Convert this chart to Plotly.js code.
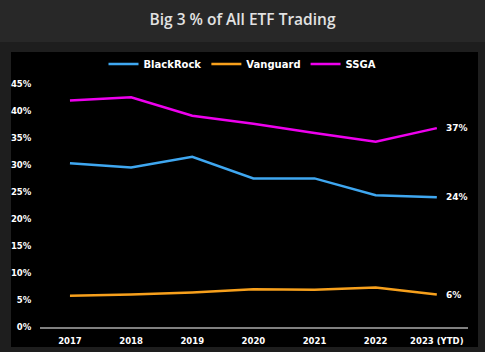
<!DOCTYPE html>
<html>
<head>
<meta charset="utf-8">
<script src="https://cdn.plot.ly/plotly-3.0.1.min.js"></script>
<style>
  html, body { margin: 0; padding: 0; background: #1e1e1e; }
  #chart { width: 485px; height: 352px; }
</style>
</head>
<body>
<div id="chart"></div>
<script>
const years = ['2017', '2018', '2019', '2020', '2021', '2022', '2023 (YTD)'];
const blackrock = [0.303, 0.295, 0.315, 0.275, 0.275, 0.244, 0.240];
const vanguard = [0.058, 0.060, 0.064, 0.070, 0.069, 0.073, 0.060];
const ssga = [0.419, 0.425, 0.391, 0.376, 0.359, 0.343, 0.368];
const seriesNames = ['BlackRock', 'Vanguard', 'SSGA'];
const seriesColors = ['#3fa7f0', '#f7a01c', '#ee00ee'];

const W = 485, H = 352;
const M = { l: 40, r: 17, t: 73, b: 25, autoexpand: false };
const pw = W - M.l - M.r, ph = H - M.t - M.b;
const px = x => (x - M.l) / pw;
const py = y => (H - M.b - y) / ph;

const seriesData = [blackrock, vanguard, ssga];
const traces = seriesData.map((vals, i) => ({
  type: 'scatter',
  mode: 'lines',
  name: seriesNames[i],
  x: years,
  y: vals,
  line: { color: seriesColors[i], width: 2.5 },
  hoverinfo: 'skip'
}));

const annotations = seriesData.map(vals => ({
  x: years[years.length - 1],
  y: vals[vals.length - 1],
  xref: 'x', yref: 'y',
  text: Math.round(vals[vals.length - 1] * 100) + '%',
  showarrow: false,
  xanchor: 'left',
  yanchor: 'middle',
  xshift: 7,
  font: { family: 'DejaVu Sans', size: 9, color: '#ffffff', weight: 'bold' }
}));

const layout = {
  width: W, height: H,
  margin: M,
  paper_bgcolor: '#1e1e1e',
  plot_bgcolor: 'rgba(0,0,0,0)',
  title: {
    text: 'Big 3 % of All ETF Trading',
    font: { family: 'Open Sans', size: 15.5, color: '#e2e2e2', weight: 600 },
    x: 0.5, xanchor: 'center', xref: 'container',
    y: 1 - 19.5 / H, yanchor: 'middle', yref: 'container',
    automargin: false
  },
  shapes: [
    { type: 'rect', xref: 'paper', yref: 'paper', layer: 'below',
      x0: px(0), x1: px(W), y0: py(0), y1: py(42),
      fillcolor: '#282828', line: { width: 0 } },
    { type: 'rect', xref: 'paper', yref: 'paper', layer: 'below',
      x0: px(11), x1: px(478), y0: py(52), y1: py(347),
      fillcolor: '#000000', line: { width: 0 } }
  ],
  xaxis: {
    type: 'category',
    range: [-0.49, 6.51],
    showgrid: false, zeroline: false,
    showline: true, linecolor: '#808080', linewidth: 1.5,
    ticks: 'outside', ticklen: 5, tickcolor: 'rgba(0,0,0,0)',
    tickfont: { family: 'DejaVu Sans', size: 8.5, color: '#ffffff', weight: 'bold' },
    automargin: false,
    fixedrange: true
  },
  yaxis: {
    range: [0, 0.47],
    dtick: 0.05, tick0: 0,
    tickformat: '.0%',
    showgrid: false, zeroline: false, showline: false,
    ticks: 'outside', ticklen: 6, tickcolor: 'rgba(0,0,0,0)',
    tickfont: { family: 'DejaVu Sans', size: 8.5, color: '#ffffff', weight: 'bold' },
    automargin: false,
    fixedrange: true
  },
  legend: {
    orientation: 'h',
    x: 0.5, xanchor: 'center', xref: 'container',
    y: 1 - 64 / H, yanchor: 'middle', yref: 'container',
    font: { family: 'DejaVu Sans', size: 10, color: '#ffffff', weight: 'bold' },
    bgcolor: 'rgba(0,0,0,0)',
    itemwidth: 30,
    traceorder: 'normal'
  },
  annotations: annotations,
  showlegend: true
};

Plotly.newPlot('chart', traces, layout, { displayModeBar: false, staticPlot: true });
</script>
</body>
</html>
